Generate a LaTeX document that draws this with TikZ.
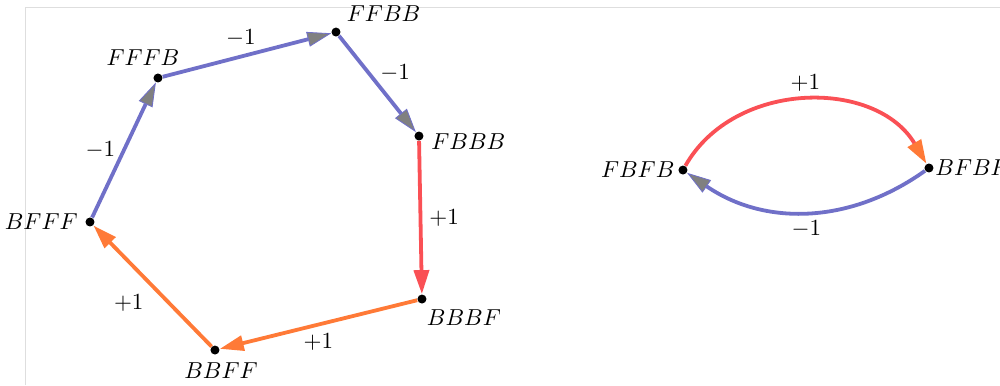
\documentclass[tikz,border=0pt]{standalone}
\usepackage{tikz}
\usetikzlibrary{arrows.meta,positioning}
\definecolor{edgeblue}{RGB}{112,112,200}
\definecolor{tipgray}{RGB}{128,128,128}
\definecolor{edgered}{RGB}{250,80,85}
\definecolor{edgeorange}{RGB}{255,122,55}
\definecolor{framegray}{RGB}{222,222,222}

\begin{document}
\begin{tikzpicture}[every node/.style={font=\fontsize{10.95}{13}\selectfont},
dot/.style={circle,fill=black,inner sep=0pt,minimum size=1.5mm},
negarr/.style={line width=1.8pt,draw=edgeblue,
  -{Triangle[length=4mm,width=2.5mm,fill=tipgray,color=edgeblue,line width=0.4pt]}},
redarr/.style={line width=1.8pt,draw=edgered,-{Triangle[length=4mm,width=2.5mm,color=edgered]}},
orarr/.style={line width=1.8pt,draw=edgeorange,-{Triangle[length=4mm,width=2.5mm,color=edgeorange]}},
toparr/.style={line width=1.8pt,draw=edgered,-{Triangle[length=4mm,width=2.5mm,color=edgeorange]}}]
\clip (0,0) rectangle (16.667,6.417);
\draw[framegray,thin] (0.417,0) -- (0.417,6.3) -- (16.667,6.3);
% left cycle
\node[dot,label={above right:$FFBB$}] (ffbb) at (5.6,5.883) {};
\node[dot,label={[xshift=-2.5mm]above:$FFFB$}] (fffb) at (2.633,5.117) {};
\node[dot,label={[yshift=-1mm]right:$FBBB$}] (fbbb) at (6.983,4.15) {};
\node[dot,label={left:$BFFF$}] (bfff) at (1.5,2.717) {};
\node[dot,label={[xshift=-1mm]below right:$BBBF$}] (bbbf) at (7.033,1.433) {};
\node[dot,label={[xshift=1mm]below:$BBFF$}] (bbff) at (3.583,0.583) {};
\draw[negarr] (fffb) -- node[midway,above,xshift=-1mm] {$-1$} (ffbb);
\draw[negarr] (ffbb) -- node[midway,above right,xshift=-1mm,yshift=-1mm] {$-1$} (fbbb);
\draw[redarr] (fbbb) -- node[midway,right] {$+1$} (bbbf);
\draw[orarr] (bbbf) -- node[midway,below] {$+1$} (bbff);
\draw[orarr] (bbff) -- node[midway,below left] {$+1$} (bfff);
\draw[negarr] (bfff) -- node[midway,left] {$-1$} (fffb);
% right pair
\node[dot,label={[inner sep=1.5pt]left:$FBFB$}] (fbfb) at (11.383,3.583) {};
\node[dot,label={[inner sep=0.5pt]right:$BFBF$}] (bfbf) at (15.483,3.617) {};
\draw[toparr] (fbfb) to[bend left=60,looseness=1.05] node[midway,above] {$+1$} (bfbf);
\draw[negarr] (bfbf) to[bend left=35] node[midway,below] {$-1$} (fbfb);
\end{tikzpicture}
\end{document}
